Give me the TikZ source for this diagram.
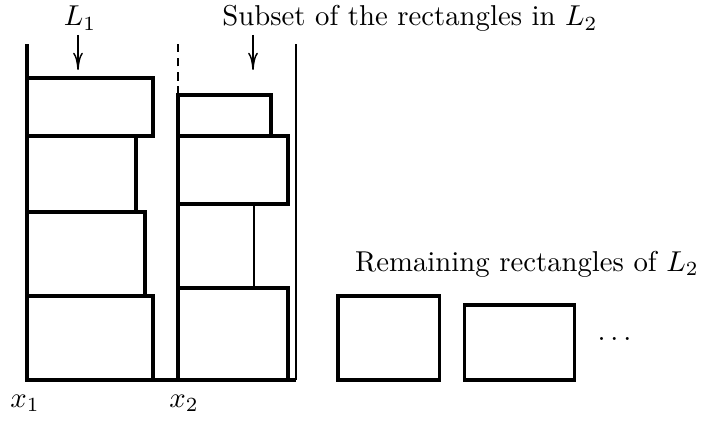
\documentclass[tikz,border=0pt]{standalone}
\usepackage{tikz}
\usetikzlibrary{arrows.meta}

\begin{document}
\begin{tikzpicture}[
  x=0.348pt, y=0.348pt,
  font=\normalsize,
  box/.style={draw=black, line width=1.05pt},
  slim/.style={draw=black, line width=0.7pt},
  fl/.style={-{To[length=6pt,width=3.4pt]}, draw=black, line width=0.5pt},
  lbl/.style={inner sep=0pt, anchor=base},
]
\useasboundingbox (0,0) rectangle (704,422);

% ---------- strip of L_1 ----------
\foreach \ya/\yb/\xr in {42/126/153, 126/210/145, 210/286/136, 286/344/153} {
  \draw[box] (27,\ya) rectangle (\xr,\yb);
}
\draw[box] (27,42) -- (27,378);

% ---------- strip of L_2 ----------
\draw[slim] (178,134) rectangle (254,218);
\foreach \ya/\yb/\xr in {42/134/288, 218/286/288, 286/327/271} {
  \draw[box] (178,\ya) rectangle (\xr,\yb);
}
\draw[box] (178,42) -- (178,327);
\draw[draw=black, line width=0.4pt, dash pattern=on 3pt off 2pt] (178,327) -- (178,378);
\draw[slim] (296,42) -- (296,378);
\draw[box] (27,42) -- (296,42);

% ---------- labels on top ----------
\node[lbl] (lone) at (80,396) {$L_1$};
\node[lbl] (subset) at (410,396) {Subset of the rectangles in $L_2$};
\coordinate (lonetail) at (78,387);
\coordinate (lonehead) at (78,352);
\coordinate (subtail) at (253,387);
\coordinate (subhead) at (253,352);
\draw[fl] (lonetail) -- (lonehead);
\draw[fl] (subtail) -- (subhead);

% ---------- remaining rectangles ----------
\node[lbl] (remain) at (527,151) {Remaining rectangles of $L_2$};
\draw[box] (338,42) rectangle (439,126);
\draw[box] (464,42) rectangle (574,117);
\node[inner sep=0pt, anchor=base west] (dots) at (597,81) {.\kern1.7pt.\kern1.7pt.};

% ---------- abscissae ----------
\node[lbl] (xone) at (25,15) {$x_1$};
\node[lbl] (xtwo) at (184,15) {$x_2$};
\end{tikzpicture}
\end{document}
